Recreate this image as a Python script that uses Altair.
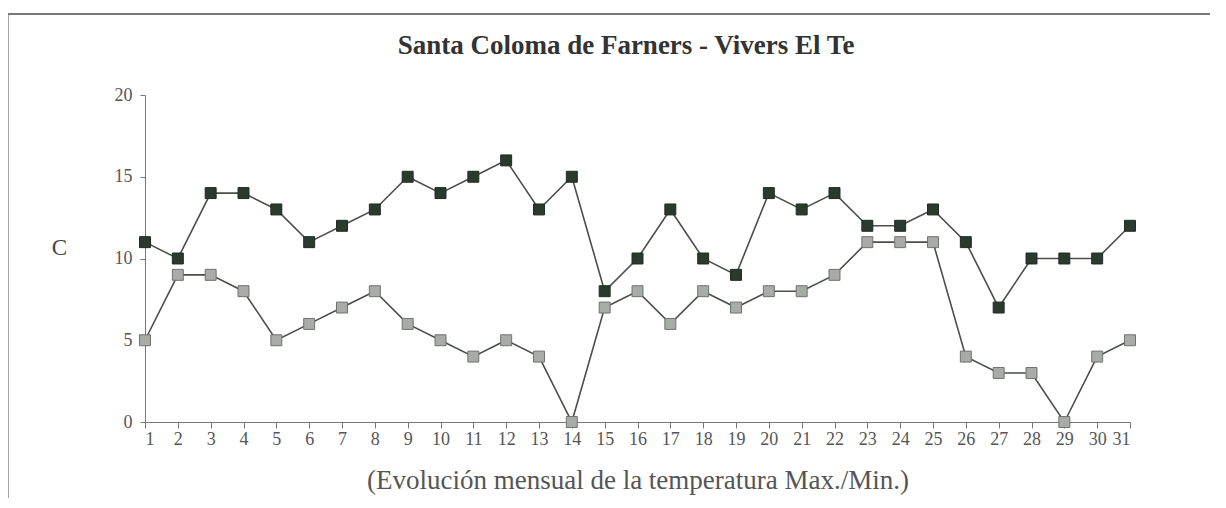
import altair as alt
import pandas as pd

days = list(range(1, 32))
tmax = [11, 10, 14, 14, 13, 11, 12, 13, 15, 14, 15, 16, 13, 15, 8, 10, 13, 10, 9, 14,
        13, 14, 12, 12, 13, 11, 7, 10, 10, 10, 12]
tmin = [5, 9, 9, 8, 5, 6, 7, 8, 6, 5, 4, 5, 4, 0, 7, 8, 6, 8, 7, 8,
        8, 9, 11, 11, 11, 4, 3, 3, 0, 4, 5]
y_ticks = [0, 5, 10, 15, 20]
title_text = "Santa Coloma de Farners - Vivers El Te"

df = pd.DataFrame(
    [{"dia": d, "temp": v, "serie": "Max."} for d, v in zip(days, tmax)]
    + [{"dia": d, "temp": v, "serie": "Min."} for d, v in zip(days, tmin)]
)
one = pd.DataFrame({"k": [0]})

FONT = "Liberation Serif"

x = alt.X("dia:Q",
          scale=alt.Scale(domain=[1, 31], nice=False, zero=False),
          axis=alt.Axis(values=days, format="d", title="(Evolución mensual de la temperatura Max./Min.)",
                        grid=False, domainColor="#777", tickColor="#777", tickSize=6,
                        labelFont=FONT, labelFontSize=18, labelColor="#555", labelPadding=2,
                        titleFont=FONT, titleFontSize=27, titleFontWeight="normal", titleColor="#555",
                        titleY=58, titleBaseline="middle"))
y = alt.Y("temp:Q",
          scale=alt.Scale(domain=[0, 20], nice=False),
          axis=alt.Axis(values=y_ticks, title="C", grid=False, domainColor="#777", tickColor="#777",
                        tickSize=5, labelFont=FONT, labelFontSize=18, labelColor="#555", labelPadding=8,
                        titleFont=FONT, titleFontSize=23, titleFontWeight="normal", titleColor="#444",
                        titleAngle=0, titleAlign="center", titleBaseline="middle",
                        titleX=-86, titleY=152))

lines = alt.Chart(df).mark_line(strokeWidth=1.6, color="#4a4f4a").encode(
    x=x, y=y, detail="serie:N")

points = alt.Chart(df).mark_point(shape="square", filled=True, size=120, strokeWidth=1, opacity=1).encode(
    x=x, y=y,
    fill=alt.Fill("serie:N", scale=alt.Scale(domain=["Max.", "Min."], range=["#2b3a2e", "#a9aba8"]), legend=None),
    stroke=alt.Stroke("serie:N", scale=alt.Scale(domain=["Max.", "Min."], range=["#1f2a22", "#6f736f"]), legend=None),
)

frame_top = alt.Chart(one).mark_rule(color="#777", strokeWidth=2).encode(
    x=alt.value(-137), x2=alt.value(1090), y=alt.value(-81))
frame_left = alt.Chart(one).mark_rule(color="#888", strokeWidth=1.5).encode(
    x=alt.value(-137), y=alt.value(-81), y2=alt.value(420))

title = alt.Chart(one).mark_text(font=FONT, fontSize=27, fontWeight="bold", color="#333",
                                 align="center", baseline="middle").encode(
    x=alt.value(481), y=alt.value(-49), text=alt.value(title_text))

chart = alt.layer(frame_top, frame_left, title, lines, points).properties(
    width=985, height=327,
    autosize=alt.AutoSizeParams(type="none"),
    padding={"left": 137, "top": 87, "right": 80, "bottom": 76},
).configure(background="white").configure_view(strokeWidth=0, stroke="transparent")

chart.save("out.html", embed_options={"renderer": "svg", "actions": False})
